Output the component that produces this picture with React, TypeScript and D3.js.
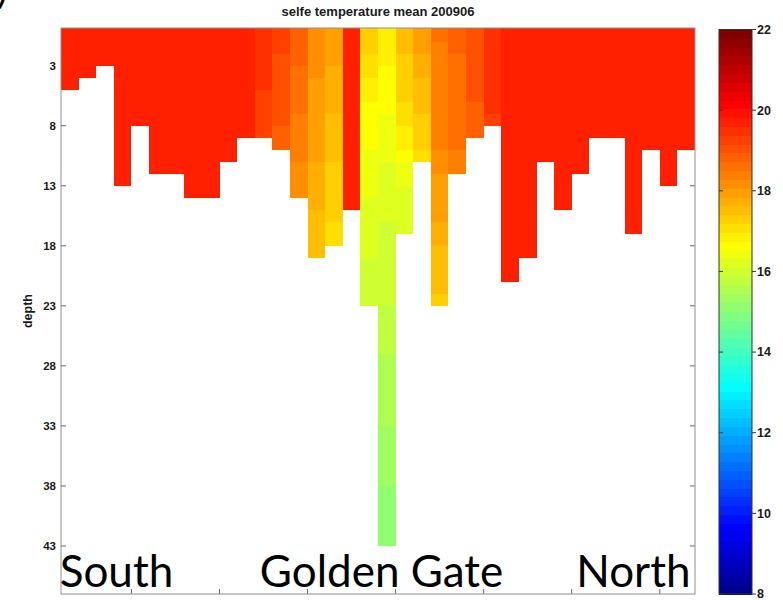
import React from "react";
import * as d3 from "d3";

// ---- data -------------------------------------------------------------
const chartTitle = "selfe temperature mean 200906";
const depthLabel = "depth";
const depthTicks = [3, 8, 13, 18, 23, 28, 33, 38, 43];
const stationTicks = [5, 10, 15, 20, 25, 30, 35];
const colorTicks = [8, 10, 12, 14, 16, 18, 20, 22];
const regionNames = ["South", "Golden Gate", "North"];

// Mean temperature (°C) per station, from the surface level downward.
const profiles: number[][] = [
  [19.6, 19.6, 19.6, 19.6, 19.6],
  [19.6, 19.6, 19.6, 19.6],
  [19.6, 19.6, 19.6],
  [19.6, 19.6, 19.6, 19.6, 19.6, 19.6, 19.6, 19.6, 19.6, 19.6, 19.6, 19.6, 19.6],
  [19.6, 19.6, 19.6, 19.6, 19.6, 19.6, 19.6, 19.6],
  [19.6, 19.6, 19.6, 19.6, 19.6, 19.6, 19.6, 19.6, 19.6, 19.6, 19.6, 19.6],
  [19.6, 19.6, 19.6, 19.6, 19.6, 19.6, 19.6, 19.6, 19.6, 19.6, 19.6, 19.6],
  [19.6, 19.6, 19.6, 19.6, 19.6, 19.6, 19.6, 19.6, 19.6, 19.6, 19.6, 19.6, 19.6, 19.6],
  [19.6, 19.6, 19.6, 19.6, 19.6, 19.6, 19.6, 19.6, 19.6, 19.6, 19.6, 19.6, 19.6, 19.6],
  [19.6, 19.6, 19.6, 19.6, 19.6, 19.6, 19.6, 19.6, 19.6, 19.6, 19.6],
  [19.6, 19.6, 19.6, 19.6, 19.6, 19.6, 19.6, 19.6, 19.6],
  [19.5, 19.5, 19.45, 19.4, 19.4, 19.35, 19.35, 19.3, 19.3],
  [19.25, 19.2, 19.15, 19.1, 19.05, 19.0, 19.0, 18.95, 18.9, 18.9],
  [18.9, 18.85, 18.75, 18.65, 18.6, 18.55, 18.5, 18.45, 18.4, 18.35, 18.3, 18.25, 18.2, 18.2],
  [18.25, 18.2, 18.15, 18.1, 18.05, 18.0, 17.95, 17.9, 17.9, 17.85, 17.85, 17.8, 17.75, 17.7, 17.65, 17.6, 17.6, 17.55, 17.5],
  [17.95, 17.9, 17.85, 17.8, 17.75, 17.7, 17.65, 17.6, 17.55, 17.5, 17.45, 17.4, 17.35, 17.3, 17.25, 17.2, 17.15, 17.1],
  [19.6, 19.6, 19.6, 19.6, 19.6, 19.6, 19.6, 19.6, 19.6, 19.6, 19.6, 19.6, 19.6, 19.6, 19.6],
  [17.3, 17.2, 17.1, 17.0, 16.9, 16.8, 16.7, 16.65, 16.6, 16.55, 16.5, 16.45, 16.4, 16.35, 16.3, 16.25, 16.2, 16.15, 16.1, 16.05, 16.0, 15.95, 15.9],
  [16.9, 16.85, 16.8, 16.7, 16.65, 16.6, 16.55, 16.5, 16.45, 16.4, 16.35, 16.3, 16.25, 16.2, 16.15, 16.1, 16.05, 16.0, 16.0, 15.95, 15.95, 15.9, 15.9,
   15.85, 15.8, 15.75, 15.7, 15.65, 15.6, 15.55, 15.5, 15.5, 15.45, 15.4, 15.35, 15.3, 15.3, 15.25, 15.2, 15.15, 15.1, 15.05, 15.0],
  [17.5, 17.45, 17.4, 17.35, 17.3, 17.25, 17.15, 17.05, 16.95, 16.85, 16.7, 16.45, 16.35, 16.3, 16.25, 16.2, 16.15],
  [17.95, 17.85, 17.75, 17.7, 17.6, 17.55, 17.45, 17.4, 17.3, 17.2, 17.1],
  [18.5, 18.45, 18.45, 18.4, 18.4, 18.4, 18.35, 18.35, 18.35, 18.3, 18.25, 18.1, 18.0, 17.95, 17.95, 17.9, 17.7, 17.65, 17.6, 17.6, 17.55, 17.5, 17.4],
  [18.75, 18.75, 18.7, 18.7, 18.65, 18.65, 18.6, 18.6, 18.55, 18.5, 18.45, 18.45],
  [19.1, 19.05, 19.0, 19.0, 18.95, 18.95, 18.9, 18.9, 18.85],
  [19.5, 19.5, 19.45, 19.45, 19.4, 19.4, 19.4, 19.35],
  [19.6, 19.6, 19.6, 19.6, 19.6, 19.6, 19.6, 19.6, 19.6, 19.6, 19.6, 19.6, 19.6, 19.6, 19.6, 19.6, 19.6, 19.6, 19.6, 19.6, 19.6],
  [19.6, 19.6, 19.6, 19.6, 19.6, 19.6, 19.6, 19.6, 19.6, 19.6, 19.6, 19.6, 19.6, 19.6, 19.6, 19.6, 19.6, 19.6, 19.6],
  [19.6, 19.6, 19.6, 19.6, 19.6, 19.6, 19.6, 19.6, 19.6, 19.6, 19.6],
  [19.6, 19.6, 19.6, 19.6, 19.6, 19.6, 19.6, 19.6, 19.6, 19.6, 19.6, 19.6, 19.6, 19.6, 19.6],
  [19.6, 19.6, 19.6, 19.6, 19.6, 19.6, 19.6, 19.6, 19.6, 19.6, 19.6, 19.6],
  [19.6, 19.6, 19.6, 19.6, 19.6, 19.6, 19.6, 19.6, 19.6],
  [19.6, 19.6, 19.6, 19.6, 19.6, 19.6, 19.6, 19.6, 19.6],
  [19.6, 19.6, 19.6, 19.6, 19.6, 19.6, 19.6, 19.6, 19.6, 19.6, 19.6, 19.6, 19.6, 19.6, 19.6, 19.6, 19.6],
  [19.6, 19.6, 19.6, 19.6, 19.6, 19.6, 19.6, 19.6, 19.6, 19.6],
  [19.6, 19.6, 19.6, 19.6, 19.6, 19.6, 19.6, 19.6, 19.6, 19.6, 19.6, 19.6, 19.6],
  [19.6, 19.6, 19.6, 19.6, 19.6, 19.6, 19.6, 19.6, 19.6, 19.6],
];

const colorRange: [number, number] = [8, 22];

// ---- MATLAB-style 64-step jet colormap --------------------------------
function jetMap(m = 64): string[] {
  const n = Math.ceil(m / 4);
  const u = [
    ...d3.range(1, n + 1).map((i) => i / n),
    ...d3.range(n - 1).map(() => 1),
    ...d3.range(n, 0, -1).map((i) => i / n),
  ];
  const base = Math.ceil(n / 2) - (m % 4 === 1 ? 1 : 0);
  const J = d3.range(m).map(() => [0, 0, 0]);
  u.forEach((val, j) => {
    const g = base + j + 1;
    const r = g + n;
    const b = g - n;
    if (r >= 1 && r <= m) J[r - 1][0] = val;
    if (g >= 1 && g <= m) J[g - 1][1] = val;
    if (b >= 1 && b <= m) J[b - 1][2] = val;
  });
  return J.map(([r, g, b]) => d3.rgb(r * 255, g * 255, b * 255).formatHex());
}

const jet = jetMap(64);
const colorOf = (v: number) => {
  const k = Math.floor(((v - colorRange[0]) / (colorRange[1] - colorRange[0])) * jet.length);
  return jet[Math.max(0, Math.min(jet.length - 1, k))];
};

// ---- layout -----------------------------------------------------------
const W = 783;
const H = 600;
const plot = { left: 61, right: 695, top: 28, bottom: 594 };
const bar = { left: 719, right: 752, top: 29.5, bottom: 594 };
const axisFont = "'Liberation Sans', Arial, Helvetica, sans-serif";

export default function App() {
  const x = d3.scaleLinear().domain([1, profiles.length + 1]).range([plot.left, plot.right]);
  const y = d3.scaleLinear().domain([-0.14, 47]).range([plot.top, plot.bottom]);
  const cb = d3.scaleLinear().domain(colorRange).range([bar.bottom, bar.top]);
  const step = (colorRange[1] - colorRange[0]) / jet.length;

  const cells = profiles.flatMap((col, i) =>
    col.map((v, d) => {
      const y0 = d === 0 ? plot.top : y(d);
      return {
        key: `${i}-${d}`,
        x: x(i + 1),
        w: x(i + 2) - x(i + 1),
        y: y0,
        h: y(d + 1) - y0,
        fill: colorOf(v),
      };
    })
  );

  const regionX = [x(4.15), x(19.2), x(33.5)];

  return (
    <svg
      width={W}
      height={H}
      viewBox={`0 0 ${W} ${H}`}
      style={{ position: "absolute", left: 0, top: 0, display: "block", background: "#fff" }}
    >
      {/* panel letter, cut off at the corner */}
      <text x={-3} y={3} fontFamily="Lato, sans-serif" fontSize={40} fill="#000">
        )
      </text>

      <text
        x={(plot.left + plot.right) / 2}
        y={16}
        textAnchor="middle"
        fontFamily={axisFont}
        fontSize={13}
        fontWeight="bold"
        fill="#1a1a1a"
      >
        {chartTitle}
      </text>

      {/* axis ticks (under the cells) */}
      <g stroke="#666" strokeWidth={1}>
        {depthTicks.map((t) => (
          <g key={`yt${t}`}>
            <line x1={plot.left} x2={plot.left + 5} y1={y(t)} y2={y(t)} />
            <line x1={plot.right - 5} x2={plot.right} y1={y(t)} y2={y(t)} />
          </g>
        ))}
        {stationTicks.map((t) => (
          <line key={`xt${t}`} x1={x(t)} x2={x(t)} y1={plot.bottom} y2={plot.bottom - 5} />
        ))}
      </g>

      {/* temperature cells */}
      <g shapeRendering="crispEdges">
        {cells.map((c) => (
          <rect key={c.key} x={c.x} y={c.y} width={c.w} height={c.h} fill={c.fill} />
        ))}
      </g>

      <rect
        x={plot.left}
        y={plot.top}
        width={plot.right - plot.left}
        height={plot.bottom - plot.top}
        fill="none"
        stroke="#8f8f8f"
        strokeWidth={1}
      />

      {depthTicks.map((t) => (
        <text
          key={`yl${t}`}
          x={plot.left - 5}
          y={y(t)}
          dy="0.35em"
          textAnchor="end"
          fontFamily={axisFont}
          fontSize={11.5}
          fontWeight="bold"
          fill="#1a1a1a"
        >
          {t}
        </text>
      ))}

      <text
        transform={`translate(${28},${(plot.top + plot.bottom) / 2}) rotate(-90)`}
        textAnchor="middle"
        dy="0.35em"
        fontFamily={axisFont}
        fontSize={12.5}
        fontWeight="bold"
        fill="#1a1a1a"
      >
        {depthLabel}
      </text>

      {/* colorbar */}
      <g shapeRendering="crispEdges">
        {jet.map((c, k) => {
          const v0 = colorRange[0] + k * step;
          return (
            <rect
              key={`cb${k}`}
              x={bar.left}
              y={cb(v0 + step)}
              width={bar.right - bar.left}
              height={cb(v0) - cb(v0 + step) + 0.5}
              fill={c}
            />
          );
        })}
      </g>
      <rect
        x={bar.left}
        y={bar.top}
        width={bar.right - bar.left}
        height={bar.bottom - bar.top}
        fill="none"
        stroke="#333"
        strokeWidth={1}
      />
      <g stroke="#333" strokeWidth={1}>
        {colorTicks.map((t) => (
          <g key={`ct${t}`}>
            <line x1={bar.left} x2={bar.left + 4} y1={cb(t)} y2={cb(t)} />
            <line x1={bar.right} x2={bar.right + 4} y1={cb(t)} y2={cb(t)} />
          </g>
        ))}
      </g>
      {colorTicks.map((t) => (
        <text
          key={`cl${t}`}
          x={bar.right + 5}
          y={cb(t)}
          dy="0.35em"
          fontFamily={axisFont}
          fontSize={12.5}
          fontWeight="bold"
          fill="#1a1a1a"
        >
          {t}
        </text>
      ))}

      {/* region names along the transect */}
      {regionNames.map((name, i) => (
        <text
          key={name}
          x={regionX[i]}
          y={587}
          textAnchor="middle"
          fontFamily="Lato, 'Open Sans', sans-serif"
          fontSize={44}
          fill="#000"
        >
          {name}
        </text>
      ))}
    </svg>
  );
}
